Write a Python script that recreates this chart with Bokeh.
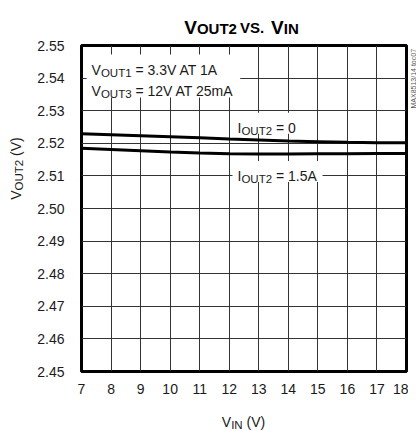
import math
from bokeh.plotting import figure
from bokeh.layouts import column, row
from bokeh.models import Label, BoxAnnotation, FixedTicker, Range1d
from bokeh.embed import file_html
from bokeh.resources import INLINE

# ---------------- data ----------------
vin = [7, 8, 9, 10, 11, 12, 13, 14, 15, 16, 17, 18]
vout2_iout0 = [2.5229, 2.5226, 2.5223, 2.5220, 2.5217, 2.5213,
               2.5210, 2.5207, 2.5205, 2.5203, 2.5202, 2.5202]
vout2_iout15 = [2.5185, 2.5181, 2.5177, 2.5173, 2.5170, 2.5168,
                2.5167, 2.5167, 2.5168, 2.5168, 2.5169, 2.5169]
x_ticks = [7, 8, 9, 10, 11, 12, 13, 14, 15, 16, 17, 18]
y_ticks = [2.45, 2.46, 2.47, 2.48, 2.49, 2.50, 2.51, 2.52, 2.53, 2.54, 2.55]
y_tick_labels = ["2.45", "2.46", "2.47", "2.48", "2.49", "2.50",
                 "2.51", "2.52", "2.53", "2.54", "2.55"]

# ---------------- layout (page pixels) ----------------
TOTAL_W = 416
TITLE_H, XLAB_H = 37, 30
YLAB_W, TOC_W = 34, 8
MAIN_W = TOTAL_W - YLAB_W - TOC_W          # 374
BL, BR, BT, BB = 46, 2, 8, 30
FH = 326
MAIN_H = BT + FH + BB                      # 364
FW = MAIN_W - BL - BR                      # 326
ROW_BOTTOM = TITLE_H + MAIN_H              # 401
XMIN, XMAX, YMIN, YMAX = 7, 18, 2.45, 2.55
DX = (XMAX - XMIN) / FW
DY = (YMAX - YMIN) / FH

FONT = "Liberation Sans"
TXT = "#1a1a1a"
MID = 0.35   # baseline-to-middle distance, in em

AR = {'V': .667, 'O': .778, 'U': .722, 'T': .611, 'I': .278, 'N': .722,
      'A': .667, 'S': .667, 'm': .833, ' ': .278, '=': .584, '.': .278,
      '(': .333, ')': .333, '/': .278, 'M': .833, 'X': .667, 't': .278,
      'o': .556, 'c': .5}


def text_w(s, size):
    if s is None:
        return size
    return sum(AR.get(ch, .556) for ch in s) * size


def width_of(parts):
    return sum(text_w(s, size) for s, size, _ in parts)


def style_label(lab, size, style, color):
    lab.text_font = FONT
    lab.text_font_size = f"{size}px"
    lab.text_font_style = style
    lab.text_color = color


def rich(fig, parts, x, y, xu="data", yu="data", style="normal", color=TXT):
    """Horizontal run of text pieces, left/baseline anchored at (x, y)."""
    off = 0.0
    for s, size, drop in parts:
        if s is None:
            off += size
            continue
        lead = len(s) - len(s.lstrip(" "))
        off += text_w(s[:lead], size)
        body = s[lead:]
        if body:
            lab = Label(x=x, y=y, x_units=xu, y_units=yu, x_offset=off,
                        y_offset=-drop, text=body, text_align="left",
                        text_baseline="alphabetic")
            style_label(lab, size, style, color)
            fig.add_layout(lab)
        off += text_w(body, size)
    return off


def rich_vertical(fig, parts, bx, y0, style="normal", color=TXT):
    """Text reading bottom-to-top; baseline at screen x=bx, starting at y0.
    Each piece is anchored at its own centre so rotation is unambiguous."""
    off = 0.0
    for s, size, drop in parts:
        lead = len(s) - len(s.lstrip(" "))
        off += text_w(s[:lead], size)
        body = s[lead:]
        w = text_w(body, size)
        lab = Label(x=bx - MID * size + drop, y=y0 + off + w / 2,
                    x_units="screen", y_units="screen", text=body,
                    angle=math.pi / 2, text_align="center",
                    text_baseline="middle")
        style_label(lab, size, style, color)
        fig.add_layout(lab)
        off += w
    return off


def blank(w, h):
    f = figure(width=w, height=h, x_range=Range1d(0, w), y_range=Range1d(0, h),
               output_backend="svg", toolbar_location=None,
               x_axis_location=None, y_axis_location=None, min_border=0)
    f.outline_line_color = None
    f.background_fill_color = "white"
    f.border_fill_color = "white"
    f.grid.visible = False
    return f


# ---------------- main plot ----------------
p = figure(width=MAIN_W, height=MAIN_H, x_range=Range1d(XMIN, XMAX),
           y_range=Range1d(YMIN, YMAX), output_backend="svg",
           toolbar_location=None, min_border_left=BL, min_border_right=BR,
           min_border_top=BT, min_border_bottom=BB)
p.background_fill_color = "white"
p.border_fill_color = "white"
p.outline_line_color = "black"
p.outline_line_width = 3

p.xaxis.ticker = FixedTicker(ticks=x_ticks)
p.yaxis.ticker = FixedTicker(ticks=y_ticks)
p.yaxis.major_label_overrides = {t: l for t, l in zip(y_ticks, y_tick_labels)}
for ax in (p.xaxis[0], p.yaxis[0]):
    ax.axis_line_color = None
    ax.major_tick_line_color = None
    ax.minor_tick_line_color = None
    ax.major_tick_in = 0
    ax.major_tick_out = 0
    ax.major_label_text_font = FONT
    ax.major_label_text_font_size = "14px"
    ax.major_label_text_color = TXT
p.xaxis.major_label_standoff = 12
p.yaxis.major_label_standoff = 17

p.xgrid.ticker = FixedTicker(ticks=x_ticks)
p.ygrid.ticker = FixedTicker(ticks=y_ticks)
for g in (p.xgrid[0], p.ygrid[0]):
    g.grid_line_color = "#333333"
    g.grid_line_width = 1

p.line(vin, vout2_iout0, line_color="black", line_width=3)
p.line(vin, vout2_iout15, line_color="black", line_width=3)

F, FS, DROP = 14, 11.5, 3

cond1 = [("V", F, 0), ("OUT1", FS, DROP), (" = 3.3V AT 1A", F, 0)]
cond2 = [("V", F, 0), ("OUT3", FS, DROP), (" = 12V AT 25mA", F, 0)]
lab0 = [("I", F, 0), ("OUT2", FS, DROP), (" = 0", F, 0)]
lab15 = [("I", F, 0), ("OUT2", FS, DROP), (" = 1.5A", F, 0)]

c_x, c_y1, c_y2 = 7.34, 2.5426, 2.5359
l_x, l0_y, l15_y = 12.28, 2.5248, 2.5100


def white_box(x0, y_top_base, y_bot_base, wpx):
    p.add_layout(BoxAnnotation(left=x0 - 5 * DX, right=x0 + (wpx + 6) * DX,
                               bottom=y_bot_base - 6 * DY,
                               top=y_top_base + 15 * DY,
                               fill_color="white", fill_alpha=1.0,
                               line_color=None))


white_box(c_x, c_y1, c_y2, max(width_of(cond1), width_of(cond2)))
white_box(l_x, l0_y, l0_y, width_of(lab0))
white_box(l_x, l15_y, l15_y, width_of(lab15))

rich(p, cond1, c_x, c_y1)
rich(p, cond2, c_x, c_y2)
rich(p, lab0, l_x, l0_y)
rich(p, lab15, l_x, l15_y)

frame_cx = YLAB_W + BL + FW / 2

# ---------------- title ----------------
tfig = blank(TOTAL_W, TITLE_H)
TB, TS = 19, 15
title = [("V", TB, 0), ("OUT2", TS, 1), (None, 3, 0), ("VS.", TS, 0),
         (None, 7, 0), ("V", TB, 0), ("IN", TS, 1)]
rich(tfig, title, 241 - width_of(title) / 2, TITLE_H - 27, xu="screen",
     yu="screen", style="bold", color="black")

# ---------------- y label (rotated) ----------------
yfig = blank(YLAB_W, MAIN_H)
yl = [("V", F, 0), ("OUT2", FS, DROP), (" (V)", F, 0)]
rich_vertical(yfig, yl, 20, ROW_BOTTOM - 198 - width_of(yl) / 2)

# ---------------- figure code (right) ----------------
tocfig = blank(TOC_W, MAIN_H)
toc = [("MAX8513/14 toc07", 7, 0)]
rich_vertical(tocfig, toc, 7, ROW_BOTTOM - 138, color="#555555")

# ---------------- x label ----------------
xfig = blank(TOTAL_W, XLAB_H)
xl = [("V", F, 0), ("IN", FS, DROP), (" (V)", F, 0)]
rich(xfig, xl, frame_cx - width_of(xl) / 2, (ROW_BOTTOM + XLAB_H) - 421,
     xu="screen", yu="screen")

layout = column(tfig, row(yfig, p, tocfig, spacing=0), xfig, spacing=0)
open("out.html", "w").write(file_html(layout, INLINE))
